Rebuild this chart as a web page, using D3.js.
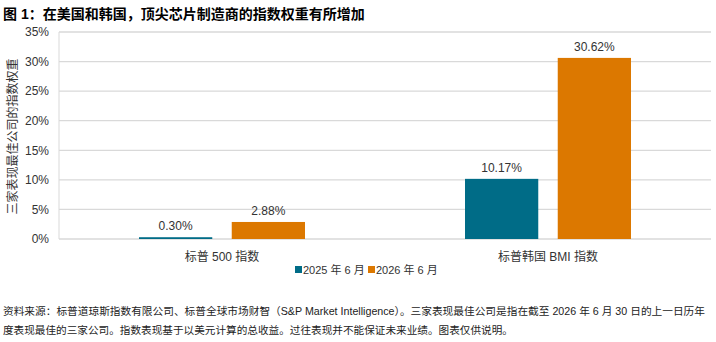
<!DOCTYPE html>
<html>
<head>
<meta charset="utf-8">
<script src="https://cdn.jsdelivr.net/npm/d3@7"></script>
<style>
  body { margin: 0; background: #fff; }
  svg text { font-family: "Liberation Sans", "Noto Sans CJK SC", sans-serif; fill: #333; }
</style>
</head>
<body>
<div class="chart"></div>
<script>
// 数据
const categories = ["标普 500 指数", "标普韩国 BMI 指数"];
const seriesNames = ["2025 年 6 月", "2026 年 6 月"];
const values2025 = [0.30, 10.17];
const values2026 = [2.88, 30.62];
const yTicks = [0, 5, 10, 15, 20, 25, 30, 35];
const colors = ["#006c87", "#dc7800"];

const chartTitle = "图 1：在美国和韩国，顶尖芯片制造商的指数权重有所增加";
const yTitle = "三家表现最佳公司的指数权重";
const notes = [
  "资料来源：标普道琼斯指数有限公司、标普全球市场财智（S&P Market Intelligence）。三家表现最佳公司是指在截至 2026 年 6 月 30 日的上一日历年",
  "度表现最佳的三家公司。指数表现基于以美元计算的总收益。过往表现并不能保证未来业绩。图表仅供说明。"
];
const noteWidths = [702, 510];

const svg_width = 716, svg_height = 342;
const margin = { top: 32, right: 5, bottom: 103, left: 59 };
const chart_width = svg_width - margin.left - margin.right;
const chart_height = svg_height - margin.top - margin.bottom;

const svg = d3.select(".chart").append("svg")
  .attr("width", svg_width).attr("height", svg_height);

// 标题
svg.append("text").attr("x", 3).attr("y", 19)
  .style("font-size", "14px").style("font-weight", "bold").style("fill", "#000")
  .text(chartTitle);

const g = svg.append("g").attr("transform", `translate(${margin.left},${margin.top})`);

const x0 = d3.scaleBand().domain(categories).range([0, chart_width]);
const x1 = d3.scaleBand().domain(seriesNames).range([80, x0.bandwidth() - 80]).paddingInner(0.21);
const y = d3.scaleLinear().domain([0, 35]).range([chart_height, 0]);

// 网格线
g.selectAll(".grid").data(yTicks).enter().append("line")
  .attr("x1", 0).attr("x2", chart_width)
  .attr("y1", d => y(d)).attr("y2", d => y(d))
  .style("stroke", "#d9d9d9").style("stroke-width", 1.3);
g.append("line").attr("x1", 0).attr("x2", 0).attr("y1", 0).attr("y2", chart_height)
  .style("stroke", "#d9d9d9").style("stroke-width", 1);

// y轴刻度
const yAxis = g.append("g").call(d3.axisLeft(y).tickValues(yTicks).tickFormat(d => d + "%").tickSize(0).tickPadding(10));
yAxis.select(".domain").remove();
yAxis.selectAll("text").style("font-size", "12px").style("fill", "#333");

// y轴标题
svg.append("text")
  .attr("transform", `translate(17,${margin.top + chart_height / 2 + 1}) rotate(-90)`)
  .attr("text-anchor", "middle").style("font-size", "12px")
  .text(yTitle);

// 柱子
const rows = categories.map((c, i) => ({ cat: c, vals: [values2025[i], values2026[i]] }));
const grp = g.selectAll(".group").data(rows).enter().append("g")
  .attr("transform", d => `translate(${x0(d.cat)},0)`);
grp.selectAll("rect").data(d => d.vals.map((v, j) => ({ s: seriesNames[j], v, j })))
  .enter().append("rect")
  .attr("x", d => x1(d.s)).attr("width", x1.bandwidth())
  .attr("y", d => y(d.v)).attr("height", d => chart_height - y(d.v))
  .style("fill", d => colors[d.j]);
grp.selectAll(".lbl").data(d => d.vals.map((v, j) => ({ s: seriesNames[j], v, j })))
  .enter().append("text")
  .attr("x", d => x1(d.s) + x1.bandwidth() / 2).attr("y", d => y(d.v) - 7)
  .attr("text-anchor", "middle").style("font-size", "12px")
  .text(d => d.v.toFixed(2) + "%");

// x轴分类标签
g.selectAll(".cat").data(categories).enter().append("text")
  .attr("x", d => x0(d) + x0.bandwidth() / 2).attr("y", chart_height + 22)
  .attr("text-anchor", "middle").style("font-size", "12px")
  .text(d => d);

// 图例
const legend = svg.append("g").attr("transform", `translate(295,${margin.top + chart_height + 31})`);
const lx = [0, 73];
seriesNames.forEach((s, i) => {
  legend.append("rect").attr("x", lx[i]).attr("y", -4).attr("width", 7).attr("height", 7).style("fill", colors[i]);
  legend.append("text").attr("x", lx[i] + 8).attr("y", 3.5).style("font-size", "11px").text(s);
});

// 注释
svg.selectAll(".note").data(notes).enter().append("text")
  .attr("x", 3).attr("y", (d, i) => 315 + i * 19)
  .attr("textLength", (d, i) => noteWidths[i]).attr("lengthAdjust", "spacingAndGlyphs")
  .style("font-size", "10.4px").style("fill", "#222")
  .text(d => d);
</script>
</body>
</html>
